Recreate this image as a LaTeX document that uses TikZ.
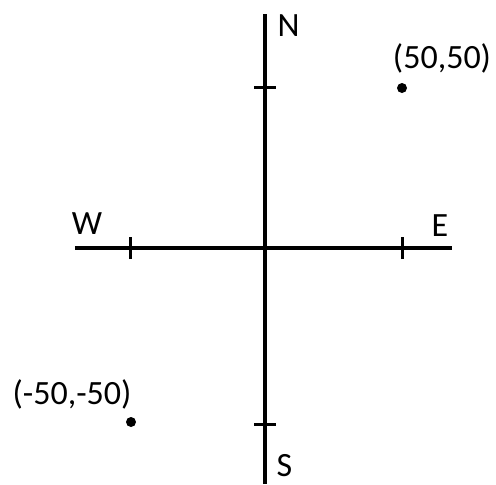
\documentclass[tikz,border=0pt]{standalone}
\usepackage{fontspec}
\setmainfont{Carlito}
\usepackage{tikz}
\usetikzlibrary{positioning}
\tikzset{
  axisline/.style={draw=black,line width=1.8pt},
  tickline/.style={draw=black,line width=1.5pt},
  dirlabel/.style={inner sep=0pt,font=\fontsize{17}{20}\selectfont},
  ptdot/.style={circle,fill=black,inner sep=0pt,minimum size=5pt},
}
\begin{document}
\begin{tikzpicture}[x=0.5pt,y=0.5pt]
    \useasboundingbox (-265,-236) rectangle (231,248);
    % axes
    \coordinate (O) at (0,0);
    \coordinate (top) at (0,234);
    \coordinate (bot) at (0,-236);
    \coordinate (left) at (-190,0);
    \coordinate (right) at (187,0);
    \draw[axisline] (top) -- (bot);
    \draw[axisline] (left) -- (right);
    % ticks
    \foreach \x in {-135,137}
      \draw[tickline] (\x,-11) -- (\x,11);
    \foreach \y in {161,-176}
      \draw[tickline] (-11,\y) -- (11,\y);
    % directions
    \node[dirlabel] (N) at (23.5,222) {N};
    \node[dirlabel] (E) at (175,22) {E};
    \node[dirlabel] (W) at (-178,24) {W};
    \node[dirlabel] (S) at (19.5,-218) {S};
    % points
    \node[ptdot] (pA) at (137,160) {};
    \node[ptdot] (pB) at (-134,-174) {};
    \node[dirlabel] (lA) at (177,190) {(50,50)};
    \node[dirlabel] (lB) at (-193,-146) {(-50,-50)};
  \end{tikzpicture}
\end{document}
